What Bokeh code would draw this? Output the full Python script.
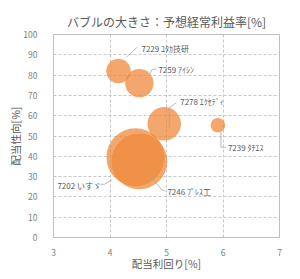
from bokeh.plotting import figure
from bokeh.models import ColumnDataSource, FixedTicker, Range1d
from bokeh.core.properties import value
from bokeh.embed import file_html
from bokeh.resources import INLINE
import math

# ---- data ----
codes = ["7229", "7259", "7278", "7239", "7202", "7246"]
names = ["ﾕﾀｶ技研", "ｱｲｼﾝ", "ｴｸｾﾃﾞｨ", "ﾀﾁｴｽ", "いすゞ", "ﾌﾟﾚｽ工"]
div_yield = [4.15, 4.52, 4.96, 5.91, 4.45, 4.52]      # 配当利回り[%]
payout = [82.0, 76.0, 56.0, 55.3, 39.5, 37.5]        # 配当性向[%]
margin = [1.5, 2.0, 2.8, 0.53, 8.4, 7.8]             # 予想経常利益率[%]

x_ticks = [3, 4, 5, 6, 7]
y_ticks = [0, 10, 20, 30, 40, 50, 60, 70, 80, 90, 100]

title_text = "バブルの大きさ：予想経常利益率[%]"
x_label = "配当利回り[%]"
y_label = "配当性向[%]"

# ---- layout / style (pixels) ----
FONT = "Noto Sans CJK JP"
W, H = 300, 279
B_LEFT, B_RIGHT, B_TOP, B_BOTTOM = 53, 21, 34, 42
X0, X1, Y0, Y1 = 3, 7, 0, 100
px_x = (W - B_LEFT - B_RIGHT) / (X1 - X0)
px_y = (H - B_TOP - B_BOTTOM) / (Y1 - Y0)

label_layout = {
    "7229": dict(path=[(8, -14), (19, -24)], text=(23, -23)),
    "7259": dict(path=[(10, -9), (13, -14), (17, -14)], text=(19, -14)),
    "7278": dict(path=[(5, 4), (5, -16), (12, -21)], text=(16, -22)),
    "7239": dict(path=[(3, 7), (3, 22), (8, 22)], text=(10, 22)),
    "7202": dict(path=[(-23, 22), (-31, 27), (-35, 27)], text=(-78, 28)),
    "7246": dict(path=[(8, 10), (22, 28), (26, 30)], text=(28, 30)),
}

p = figure(width=W, height=H, output_backend="svg", toolbar_location=None,
           x_range=Range1d(X0, X1), y_range=Range1d(Y0, Y1),
           min_border_left=B_LEFT, min_border_right=B_RIGHT,
           min_border_top=B_TOP, min_border_bottom=B_BOTTOM,
           title=title_text)
p.styles = {"outline": "1px solid #d9d9d9", "outline-offset": "-3px"}

p.title.align = "center"
p.title.text_font = FONT
p.title.text_font_size = "12px"
p.title.text_font_style = "normal"
p.title.text_color = "#595959"

p.outline_line_color = "#bfbfbf"
p.outline_line_width = 1

for ax in (p.xaxis[0], p.yaxis[0]):
    ax.axis_line_color = "#bfbfbf"
    ax.major_tick_line_color = None
    ax.minor_tick_line_color = None
    ax.major_label_text_font = FONT
    ax.major_label_text_font_size = "8.5px"
    ax.major_label_text_color = "#7f7f7f"
    ax.axis_label_text_font = FONT
    ax.axis_label_text_font_size = "10.5px"
    ax.axis_label_text_font_style = "normal"
    ax.axis_label_text_color = "#595959"

p.xaxis[0].ticker = FixedTicker(ticks=x_ticks)
p.yaxis[0].ticker = FixedTicker(ticks=y_ticks)
p.xaxis[0].axis_label = x_label
p.yaxis[0].axis_label = y_label
p.xaxis[0].major_label_standoff = 5
p.yaxis[0].major_label_standoff = 10
p.xaxis[0].axis_label_standoff = -3
p.yaxis[0].axis_label_standoff = -3

for g in (p.xgrid[0], p.ygrid[0]):
    g.grid_line_color = "#c8c8c8"
    g.grid_line_dash = "3 2"
    g.grid_line_width = 1

sizes = [20 * math.sqrt(m) for m in margin]
src = ColumnDataSource(dict(x=div_yield, y=payout, size=sizes))
p.scatter("x", "y", size="size", source=src, fill_color="#F08A3C",
          fill_alpha=0.75, line_color=None)

# leader lines and labels
xs, ys = [], []
tx, ty, tt = [], [], []
for c, n, xv, yv in zip(codes, names, div_yield, payout):
    lay = label_layout[c]
    xs.append([xv + dx / px_x for dx, dy in lay["path"]])
    ys.append([yv - dy / px_y for dx, dy in lay["path"]])
    tx.append(xv + lay["text"][0] / px_x)
    ty.append(yv - lay["text"][1] / px_y)
    tt.append(c + "  " + n)

p.multi_line(xs, ys, line_color="#a6a6a6", line_width=0.8)
p.text(tx, ty, text=tt, text_font=value(FONT), text_font_size="8px",
       text_color="#595959", text_align="left", text_baseline="middle")

open("out.html", "w").write(file_html(p, INLINE))
